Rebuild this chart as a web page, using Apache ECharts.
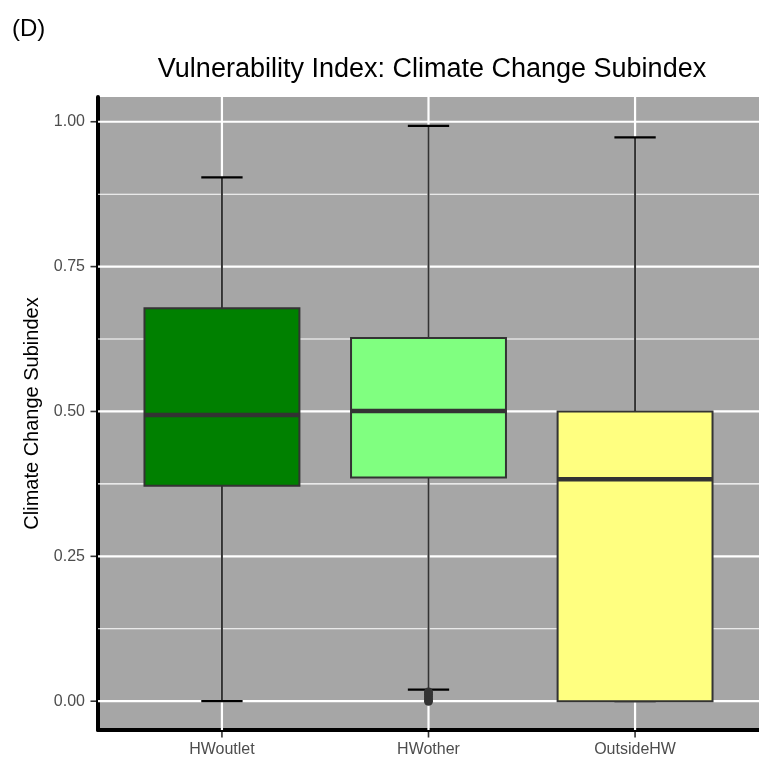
<!DOCTYPE html>
<html>
<head>
<meta charset="utf-8">
<script src="https://cdn.jsdelivr.net/npm/echarts@6/dist/echarts.min.js"></script>
<style>
  html, body { margin: 0; padding: 0; background: #fff; }
  #chart { width: 759px; height: 761px; }
</style>
</head>
<body>
<div id="chart"></div>
<script>
// box statistics per group
const categories = ['HWoutlet', 'HWother', 'OutsideHW'];
const whiskerLow = [0.0, 0.020, 0.0];
const q1 = [0.372, 0.386, 0.0];
const median = [0.494, 0.501, 0.383];
const q3 = [0.678, 0.627, 0.500];
const whiskerHigh = [0.904, 0.993, 0.973];
const boxColors = ['#008000', '#80FF80', '#FFFF80'];

// outliers (all in HWother, near zero)
const outlierGroup = ['HWother', 'HWother', 'HWother', 'HWother', 'HWother'];
const outlierValues = [0.0, 0.004, 0.008, 0.012, 0.016];

const yTicks = [0, 0.25, 0.5, 0.75, 1];
const yMinorTicks = [0.125, 0.375, 0.625, 0.875];
const xTicks = [1, 2, 3];

const chart = echarts.init(document.getElementById('chart'));

const boxData = categories.map((c, i) => [i + 1, whiskerLow[i], q1[i], median[i], q3[i], whiskerHigh[i]]);
const outlierData = outlierValues.map((v, i) => [categories.indexOf(outlierGroup[i]) + 1, v]);

// grid lines (white, under the boxes) and outside tick marks
function lineSeries(values, dir, kind, width) {
  return {
    type: 'custom',
    z: kind === 'tick' ? 5 : 1,
    silent: true,
    clip: false,
    data: values.map(v => [v]),
    encode: dir === 'h' ? { y: 0 } : { x: 0 },
    renderItem: (params, api) => {
      const cs = params.coordSys;
      const v = api.value(0);
      let shape;
      if (dir === 'h') {
        const y = api.coord([1, v])[1];
        shape = kind === 'tick'
          ? { x1: cs.x - 7.5, y1: y, x2: cs.x - 2, y2: y }
          : { x1: cs.x, y1: y, x2: cs.x + cs.width, y2: y };
      } else {
        const x = api.coord([v, 0])[0];
        shape = kind === 'tick'
          ? { x1: x, y1: cs.y + cs.height + 2, x2: x, y2: cs.y + cs.height + 7.5 }
          : { x1: x, y1: cs.y, x2: x, y2: cs.y + cs.height };
      }
      const stroke = kind === 'tick' ? '#333333' : '#ffffff';
      return { type: 'line', shape: shape, style: { stroke: stroke, lineWidth: width } };
    }
  };
}

function renderBox(params, api) {
  const x = api.value(0);
  const lo = api.coord([x, api.value(1)]);
  const b1 = api.coord([x, api.value(2)]);
  const md = api.coord([x, api.value(3)]);
  const b3 = api.coord([x, api.value(4)]);
  const hi = api.coord([x, api.value(5)]);
  const half = api.size([0.75, 0])[0] / 2;
  const cap = api.size([0.2, 0])[0] / 2;
  const fill = boxColors[params.dataIndex];
  return {
    type: 'group',
    children: [
      { type: 'line', shape: { x1: lo[0], y1: lo[1], x2: hi[0], y2: hi[1] }, style: { stroke: '#333333', lineWidth: 2 } },
      { type: 'line', shape: { x1: hi[0] - cap, y1: hi[1], x2: hi[0] + cap, y2: hi[1] }, style: { stroke: '#000000', lineWidth: 2.2 } },
      { type: 'line', shape: { x1: lo[0] - cap, y1: lo[1], x2: lo[0] + cap, y2: lo[1] }, style: { stroke: '#000000', lineWidth: 2.2 } },
      { type: 'rect', shape: { x: b3[0] - half, y: b3[1], width: half * 2, height: b1[1] - b3[1] }, style: { fill: fill, stroke: '#333333', lineWidth: 2 } },
      { type: 'line', shape: { x1: md[0] - half, y1: md[1], x2: md[0] + half, y2: md[1] }, style: { stroke: '#333333', lineWidth: 4.5 } }
    ]
  };
}

chart.setOption({
  animation: false,
  textStyle: { fontFamily: 'Liberation Sans' },
  title: [
    { text: '(D)', left: 7, top: 12, textStyle: { fontSize: 24, fontWeight: 'normal', color: '#000' } },
    { text: 'Vulnerability Index: Climate Change Subindex', left: 427, top: 51, textAlign: 'center',
      textStyle: { fontSize: 27, fontWeight: 'normal', color: '#000' } }
  ],
  grid: {
    left: 98, top: 97, width: 666, height: 633,
    show: true, backgroundColor: '#A6A6A6', borderWidth: 0
  },
  xAxis: {
    type: 'value',
    min: 0.4,
    max: 3.6,
    splitLine: { show: false },
    axisLine: { show: true, onZero: false, lineStyle: { color: '#000', width: 4 } },
    axisTick: { show: false },
    axisLabel: {
      customValues: xTicks,
      formatter: v => categories[Math.round(v) - 1],
      color: '#4D4D4D', fontSize: 16, margin: 12
    }
  },
  yAxis: {
    type: 'value',
    min: -0.0497,
    max: 1.0427,
    name: 'Climate Change Subindex',
    nameLocation: 'middle',
    nameGap: 51,
    nameTextStyle: { fontSize: 20, color: '#000' },
    splitLine: { show: false },
    axisLine: { show: true, onZero: false, lineStyle: { color: '#000', width: 4 } },
    axisTick: { show: false },
    axisLabel: {
      customValues: yTicks,
      formatter: v => v.toFixed(2),
      color: '#4D4D4D', fontSize: 16, margin: 13
    }
  },
  series: [
    lineSeries(yMinorTicks, 'h', 'grid', 1.1),
    lineSeries(yTicks, 'h', 'grid', 2.2),
    lineSeries(xTicks, 'v', 'grid', 2.2),
    lineSeries(yTicks, 'h', 'tick', 1.6),
    lineSeries(xTicks, 'v', 'tick', 1.6),
    {
      type: 'custom',
      z: 2,
      data: boxData,
      encode: { x: 0, y: [1, 2, 3, 4, 5] },
      renderItem: renderBox
    },
    {
      type: 'scatter',
      z: 3,
      data: outlierData,
      symbolSize: 9,
      itemStyle: { color: '#333333', opacity: 1 }
    }
  ]
});

window.addEventListener('resize', () => chart.resize());
</script>
</body>
</html>
